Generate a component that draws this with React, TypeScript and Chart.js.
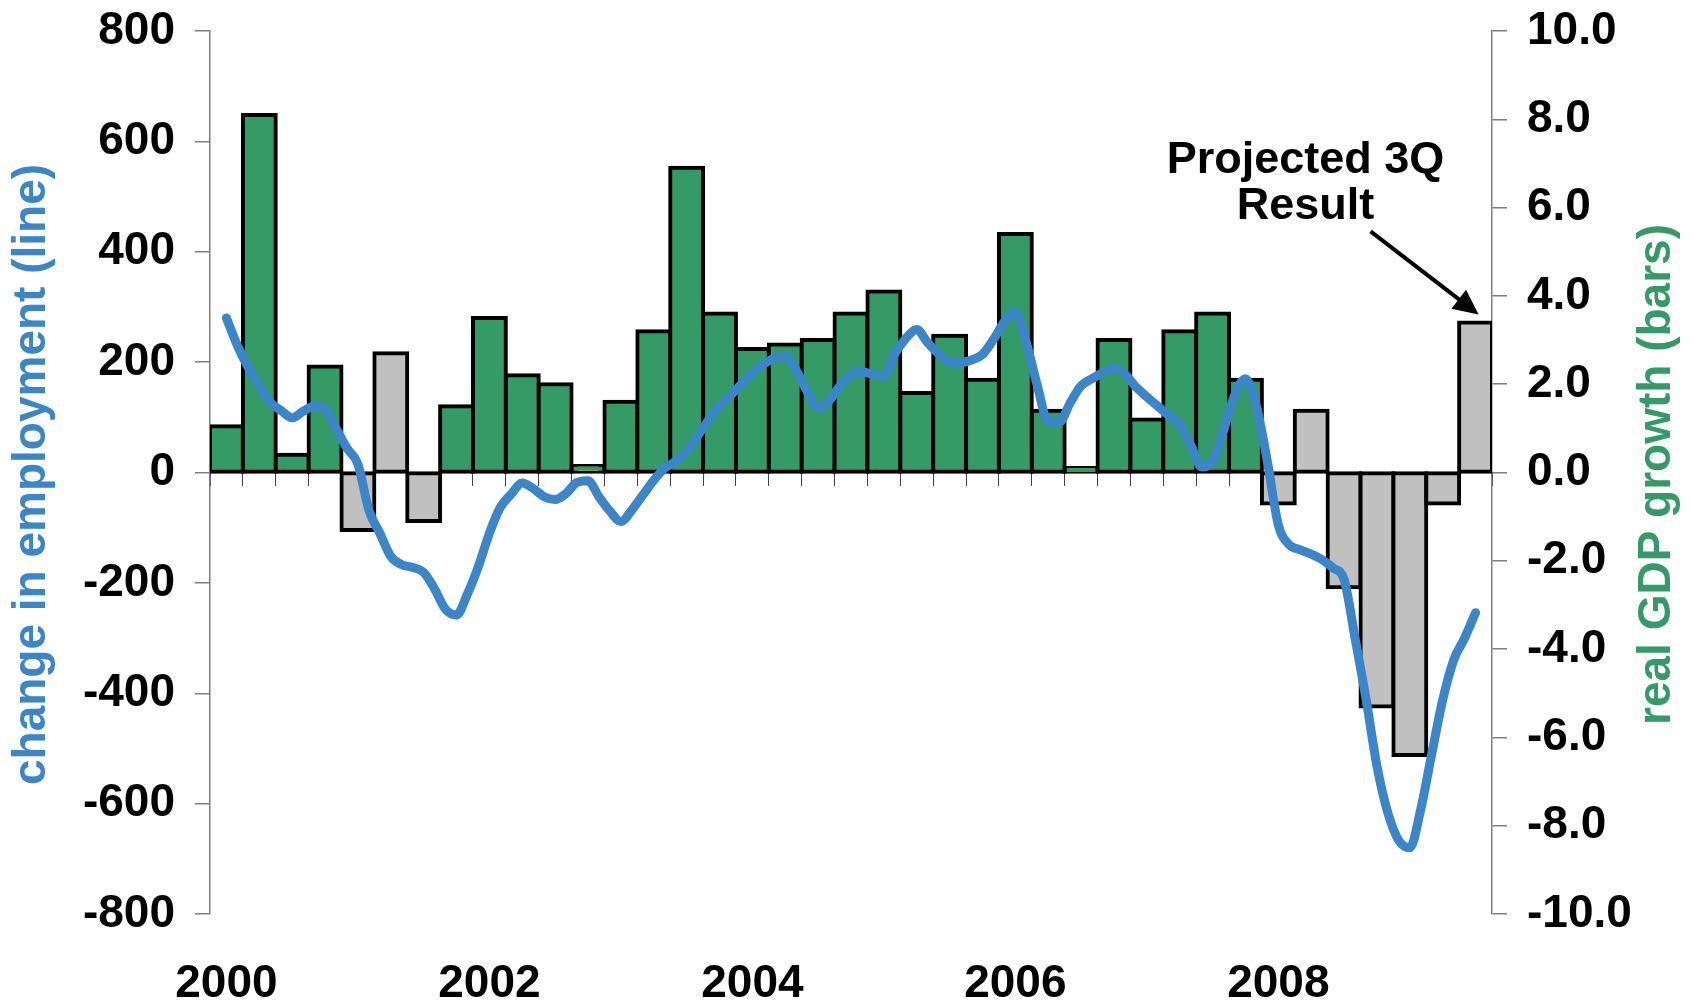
import React, { useEffect, useRef } from 'react';
import { Chart, registerables } from 'chart.js';

Chart.register(...registerables);

// ---------- data ----------
const quarters = [
  '2000Q1', '2000Q2', '2000Q3', '2000Q4',
  '2001Q1', '2001Q2', '2001Q3', '2001Q4',
  '2002Q1', '2002Q2', '2002Q3', '2002Q4',
  '2003Q1', '2003Q2', '2003Q3', '2003Q4',
  '2004Q1', '2004Q2', '2004Q3', '2004Q4',
  '2005Q1', '2005Q2', '2005Q3', '2005Q4',
  '2006Q1', '2006Q2', '2006Q3', '2006Q4',
  '2007Q1', '2007Q2', '2007Q3', '2007Q4',
  '2008Q1', '2008Q2', '2008Q3', '2008Q4',
  '2009Q1', '2009Q2', '2009Q3',
];

// real GDP growth, % annualised (bars, right axis)
const gdpGrowth = [
  1.05, 8.1, 0.4, 2.4,
  -1.3, 2.7, -1.1, 1.5,
  3.5, 2.2, 2.0, 0.15,
  1.6, 3.2, 6.9, 3.6,
  2.8, 2.9, 3.0, 3.6,
  4.1, 1.8, 3.1, 2.1,
  5.4, 1.4, 0.1, 3.0,
  1.2, 3.2, 3.6, 2.1,
  -0.7, 1.4, -2.6, -5.3,
  -6.4, -0.7, 3.4,
];

// 1 = recession quarter or projected quarter (grey bar)
const shadedQuarter = [
  0, 0, 0, 0,
  1, 1, 1, 0,
  0, 0, 0, 0,
  0, 0, 0, 0,
  0, 0, 0, 0,
  0, 0, 0, 0,
  0, 0, 0, 0,
  0, 0, 0, 0,
  1, 1, 1, 1,
  1, 1, 1,
];

// monthly change in payroll employment, thousands (line, left axis),
// first value at the middle of 2000Q1, last at the middle of 2009Q3
const employmentChange = [
  280, 230, 190, 157, 127, 112, 99, 111, 120, 115, 80, 44,
  15, -68, -110, -152, -167, -172, -181, -211, -248, -258, -220, -170,
  -110, -63, -39, -19, -29, -44, -49, -38, -18, -15, -44, -70,
  -89, -68, -41, -14, 8, 20, 38, 66, 95, 120, 140, 160,
  180, 196, 207, 211, 185, 147, 117, 130, 157, 177, 182, 178,
  174, 215, 243, 259, 235, 215, 199, 199, 204, 214, 241, 273,
  290, 235, 158, 92, 91, 126, 157, 170, 181, 189, 178, 155,
  137, 120, 103, 87, 50, 10, 20, 76, 139, 170, 120, 20,
  -95, -131, -140, -148, -158, -173, -194, -300, -410, -532, -617, -667,
  -680, -610, -510, -412, -340, -300, -254,
];
const monthsPerQuarter = 3;

const yearLabels = ['2000', '2002', '2004', '2006', '2008'];
const employmentTicks = { min: -800, max: 800, step: 200 };
const gdpTicks = { min: -10, max: 10, step: 2 };

const leftTitle = 'change in employment (line)';
const rightTitle = 'real GDP growth (bars)';
const noteLines = ['Projected 3Q', 'Result'];

// ---------- layout & styles ----------
const WIDTH = 1692;
const HEIGHT = 1001;
const LEFT_AXIS_W = 210;
const RIGHT_AXIS_W = 200;
const BAR_W = (WIDTH - LEFT_AXIS_W - RIGHT_AXIS_W) / quarters.length;

const FONT = '"Liberation Sans", Arial, Helvetica, sans-serif';
const BLUE = '#3A86C8';
const GREEN = '#359B66';
const GREY = '#C0C0C0';
const AXIS = '#7F7F7F';

const overlayPlugin = {
  id: 'overlay',
  afterDraw(chart: any) {
    const { ctx, chartArea } = chart;
    const cy = (chartArea.top + chartArea.bottom) / 2 + 2;
    ctx.save();
    ctx.font = `bold 46px ${FONT}`;
    ctx.textAlign = 'center';
    ctx.textBaseline = 'alphabetic';
    // left title
    ctx.save();
    ctx.fillStyle = BLUE;
    ctx.translate(chartArea.left - 165, cy);
    ctx.rotate(-Math.PI / 2);
    ctx.fillText(leftTitle, 0, 0);
    ctx.restore();
    // right title
    ctx.save();
    ctx.fillStyle = GREEN;
    ctx.translate(chartArea.right + 178, cy);
    ctx.rotate(-Math.PI / 2);
    ctx.fillText(rightTitle, 0, 0);
    ctx.restore();

    // annotation pointing at the last (projected) bar
    const meta = chart.getDatasetMeta(1);
    const el = meta.data[meta.data.length - 1];
    if (el) {
      const tip = { x: el.x + 3, y: el.y - 8 };
      ctx.fillStyle = '#000';
      ctx.font = `bold 45px ${FONT}`;
      ctx.fillText(noteLines[0], tip.x - 173, tip.y - 141);
      ctx.fillText(noteLines[1], tip.x - 173, tip.y - 95);
      const start = { x: tip.x - 108, y: tip.y - 83 };
      const dx = tip.x - start.x;
      const dy = tip.y - start.y;
      const len = Math.hypot(dx, dy);
      const ux = dx / len;
      const uy = dy / len;
      const headLen = 25;
      const halfW = 12;
      const base = { x: tip.x - ux * headLen, y: tip.y - uy * headLen };
      ctx.strokeStyle = '#000';
      ctx.lineWidth = 4;
      ctx.beginPath();
      ctx.moveTo(start.x, start.y);
      ctx.lineTo(base.x + ux * 2, base.y + uy * 2);
      ctx.stroke();
      ctx.beginPath();
      ctx.moveTo(tip.x, tip.y);
      ctx.lineTo(base.x - uy * halfW, base.y + ux * halfW);
      ctx.lineTo(base.x + uy * halfW, base.y - ux * halfW);
      ctx.closePath();
      ctx.fill();
    }
    ctx.restore();
  },
};

export default function App() {
  const ref = useRef<HTMLCanvasElement | null>(null);

  useEffect(() => {
    if (!ref.current) return;
    const tickFont = { family: FONT, size: 46, weight: 'bold' as const };
    const chart = new Chart(ref.current, {
      type: 'bar',
      data: {
        labels: quarters,
        datasets: [
          {
            type: 'line',
            label: 'employment',
            data: employmentChange.map((v, m) => ({ x: m / monthsPerQuarter, y: v })),
            xAxisID: 'xl',
            yAxisID: 'y',
            borderColor: BLUE,
            borderWidth: 9,
            pointRadius: 0,
            cubicInterpolationMode: 'monotone',
            borderCapStyle: 'round',
            borderJoinStyle: 'round',
            order: 0,
          } as any,
          {
            type: 'bar',
            label: 'gdp',
            data: gdpGrowth,
            xAxisID: 'x',
            yAxisID: 'y1',
            backgroundColor: shadedQuarter.map((s) => (s ? GREY : GREEN)),
            borderColor: '#000',
            borderWidth: 4,
            borderSkipped: false,
            inflateAmount: 2,
            grouped: false,
            barThickness: BAR_W,
            order: 1,
          } as any,
        ],
      },
      options: {
        responsive: false,
        animation: false,
        devicePixelRatio: 1,
        layout: { padding: { top: 31, left: 0, right: 0, bottom: 0 } },
        plugins: { legend: { display: false }, tooltip: { enabled: false } },
        scales: {
          x: {
            type: 'category',
            position: 'bottom',
            offset: true,
            grid: { display: false, drawTicks: false },
            border: { display: false },
            ticks: {
              autoSkip: false,
              maxRotation: 0,
              minRotation: 0,
              padding: 43,
              font: tickFont,
              color: '#000',
              callback: (_v: any, i: number) => {
                const q = quarters[i];
                const yr = q.slice(0, 4);
                return q.endsWith('Q1') && yearLabels.includes(yr) ? yr : '';
              },
            },
            afterFit: (s: any) => {
              s.height = 87;
              s.paddingLeft = 0;
              s.paddingRight = 0;
            },
          },
          x2: {
            type: 'category',
            position: { y: 0 },
            offset: true,
            grid: {
              offset: true,
              drawOnChartArea: false,
              drawTicks: true,
              tickLength: 13,
              color: '#444',
              lineWidth: 1,
            },
            border: { display: true, color: '#444', width: 1 },
            ticks: { display: false },
          },
          xl: {
            type: 'linear',
            display: false,
            offset: false,
            grid: { offset: false },
            min: -0.5,
            max: quarters.length - 0.5,
          },
          y: {
            type: 'linear',
            position: 'left',
            min: employmentTicks.min,
            max: employmentTicks.max,
            ticks: {
              stepSize: employmentTicks.step,
              font: tickFont,
              color: '#000',
              padding: 20,
              callback: (v: any) => String(v),
            },
            grid: { drawOnChartArea: false, tickLength: 15, color: AXIS, lineWidth: 1.5 },
            border: { color: AXIS, width: 1.5 },
            afterFit: (s: any) => {
              s.width = LEFT_AXIS_W;
              s.paddingTop = 0;
              s.paddingBottom = 0;
            },
          },
          y1: {
            type: 'linear',
            position: 'right',
            min: gdpTicks.min,
            max: gdpTicks.max,
            ticks: {
              stepSize: gdpTicks.step,
              font: tickFont,
              color: '#000',
              padding: 20,
              callback: (v: any) => Number(v).toFixed(1),
            },
            grid: { drawOnChartArea: false, tickLength: 15, color: AXIS, lineWidth: 1.5 },
            border: { color: AXIS, width: 1.5 },
            afterFit: (s: any) => {
              s.width = RIGHT_AXIS_W;
              s.paddingTop = 0;
              s.paddingBottom = 0;
            },
          },
        },
      } as any,
      plugins: [overlayPlugin],
    });
    return () => chart.destroy();
  }, []);

  return (
    <div style={{ position: 'absolute', left: 0, top: 0, width: WIDTH, height: HEIGHT, background: '#fff' }}>
      <canvas ref={ref} width={WIDTH} height={HEIGHT} style={{ display: 'block' }} />
    </div>
  );
}
